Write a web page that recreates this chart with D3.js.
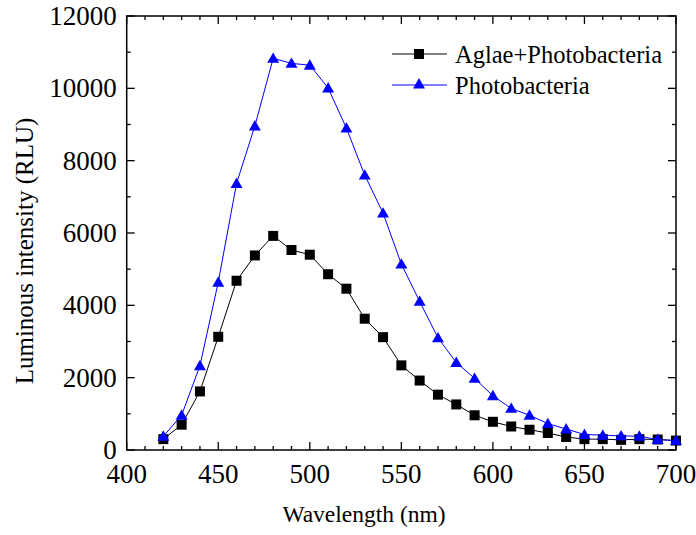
<!DOCTYPE html>
<html>
<head>
<meta charset="utf-8">
<script src="https://cdn.jsdelivr.net/npm/d3@7"></script>
<style>
  body { margin: 0; background: #fff; }
</style>
</head>
<body>
<div id="chart"></div>
<script>
// wavelength (nm)
const wavelength = [420, 430, 440, 450, 460, 470, 480, 490, 500, 510, 520, 530, 540, 550, 560,
  570, 580, 590, 600, 610, 620, 630, 640, 650, 660, 670, 680, 690, 700];
// luminous intensity (RLU)
const algaePhoto = [300, 700, 1620, 3130, 4680, 5380, 5920, 5530, 5400, 4860, 4460, 3630, 3120, 2340, 1920,
  1530, 1260, 960, 780, 650, 560, 470, 360, 300, 300, 280, 300, 290, 260];
const photo = [380, 960, 2330, 4640, 7370, 8960, 10830, 10690, 10640, 10010, 8900, 7600, 6550, 5140, 4110,
  3100, 2420, 1980, 1500, 1150, 960, 730, 580, 430, 410, 390, 380, 290, 260];
const seriesNames = ['Aglae+Photobacteria', 'Photobacteria'];
const xTicks = [400, 450, 500, 550, 600, 650, 700];
const yTicks = [0, 2000, 4000, 6000, 8000, 10000, 12000];

const width = 696, height = 535;
const margin = { left: 126.7, right: 20, top: 16, bottom: 85 };
const serif = "'Liberation Serif', 'Times New Roman', Times, 'DejaVu Serif', serif";

const svg = d3.select('#chart')
  .append('svg')
  .attr('width', width)
  .attr('height', height)
  .attr('font-family', serif);

const x = d3.scaleLinear().domain([400, 700]).range([margin.left, width - margin.right]);
const y = d3.scaleLinear().domain([0, 12000]).range([height - margin.bottom, margin.top]);

const x0 = x.range()[0], x1 = x.range()[1];
const y0 = y.range()[0], y1 = y.range()[1];

// ticks: minor every 10 nm / 1000 RLU, major on labels, all four sides, inward
const g = svg.append('g').attr('stroke', '#000').attr('stroke-width', 1.3);
d3.range(400, 701, 10).forEach(v => {
  const len = v % 50 === 0 ? 8 : 4;
  g.append('line').attr('x1', x(v)).attr('x2', x(v)).attr('y1', y0).attr('y2', y0 - len);
  g.append('line').attr('x1', x(v)).attr('x2', x(v)).attr('y1', y1).attr('y2', y1 + len);
});
d3.range(0, 12001, 1000).forEach(v => {
  const len = v % 2000 === 0 ? 8 : 4;
  g.append('line').attr('x1', x0).attr('x2', x0 + len).attr('y1', y(v)).attr('y2', y(v));
  g.append('line').attr('x1', x1).attr('x2', x1 - len).attr('y1', y(v)).attr('y2', y(v));
});

// frame
svg.append('rect')
  .attr('x', x0).attr('y', y1)
  .attr('width', x1 - x0).attr('height', y0 - y1)
  .attr('fill', 'none').attr('stroke', '#000').attr('stroke-width', 1.5);

// tick labels
svg.selectAll('.xt').data(xTicks).enter().append('text')
  .attr('x', d => x(d)).attr('y', y0 + 33)
  .attr('text-anchor', 'middle').attr('font-size', '27px')
  .text(d => d);
svg.selectAll('.yt').data(yTicks).enter().append('text')
  .attr('x', x0 - 10).attr('y', d => y(d) + 9)
  .attr('text-anchor', 'end').attr('font-size', '27px')
  .text(d => d);

// axis titles
svg.append('text')
  .attr('x', 364).attr('y', 522)
  .attr('text-anchor', 'middle').attr('font-size', '23.5px')
  .text('Wavelength (nm)');
svg.append('text')
  .attr('transform', 'translate(33,251) rotate(-90)')
  .attr('text-anchor', 'middle').attr('font-size', '25px')
  .text('Luminous intensity (RLU)');

const line = d3.line().x(d => x(d[0])).y(d => y(d[1]));
const tri = d3.symbol().type(d3.symbolTriangle).size(62);

const dataA = wavelength.map((w, i) => [w, algaePhoto[i]]);
const dataP = wavelength.map((w, i) => [w, photo[i]]);

// black series
svg.append('path').datum(dataA)
  .attr('d', line).attr('fill', 'none').attr('stroke', '#000').attr('stroke-width', 1);
svg.selectAll('.sq').data(dataA).enter().append('rect')
  .attr('x', d => x(d[0]) - 5).attr('y', d => y(d[1]) - 5)
  .attr('width', 10).attr('height', 10).attr('fill', '#000');

// blue series
svg.append('path').datum(dataP)
  .attr('d', line).attr('fill', 'none').attr('stroke', '#0000ff').attr('stroke-width', 1);
svg.selectAll('.tr').data(dataP).enter().append('path')
  .attr('d', tri)
  .attr('transform', d => `translate(${x(d[0])},${y(d[1]) + 1})`)
  .attr('fill', '#0000ff');

// legend
const legend = svg.append('g');
[0, 1].forEach(i => {
  const ly = 54 + i * 31;
  const col = i === 0 ? '#000' : '#0000ff';
  legend.append('line')
    .attr('x1', 392).attr('x2', 447).attr('y1', ly).attr('y2', ly)
    .attr('stroke', col).attr('stroke-width', 1);
  if (i === 0) {
    legend.append('rect').attr('x', 419 - 5).attr('y', ly - 5)
      .attr('width', 10).attr('height', 10).attr('fill', col);
  } else {
    legend.append('path').attr('d', tri)
      .attr('transform', `translate(419,${ly})`).attr('fill', col);
  }
  legend.append('text')
    .attr('x', 455).attr('y', ly + 8.5)
    .attr('font-size', '24.5px')
    .text(seriesNames[i]);
});
</script>
</body>
</html>
